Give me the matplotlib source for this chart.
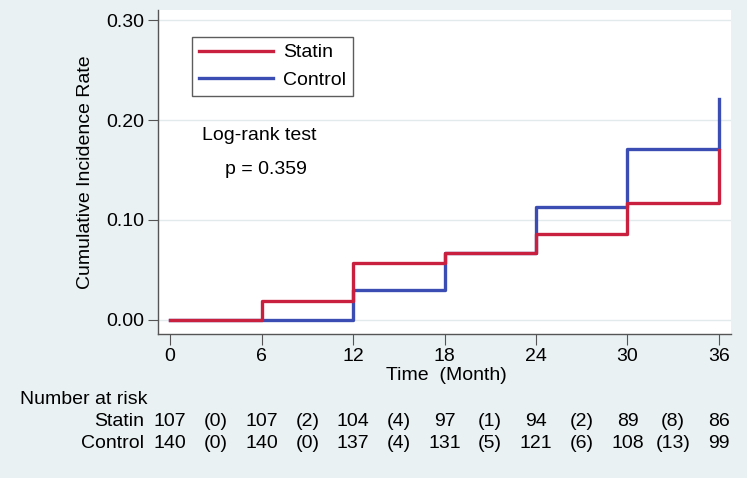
import matplotlib.pyplot as plt
from matplotlib.lines import Line2D
from matplotlib.transforms import blended_transform_factory

# ---- data ----
months = [0, 6, 12, 18, 24, 30, 36]
statin_rate = [0.000, 0.019, 0.057, 0.067, 0.086, 0.117, 0.170]
control_rate = [0.000, 0.000, 0.030, 0.067, 0.113, 0.171, 0.221]

risk_statin = [107, 107, 104, 97, 94, 89, 86]
cens_statin = [0, 2, 4, 1, 2, 8]
risk_control = [140, 140, 137, 131, 121, 108, 99]
cens_control = [0, 0, 4, 5, 6, 13]

yticks = [0.0, 0.1, 0.2, 0.3]

RED = "#c8203e"
BLUE = "#3b4db3"
BG = "#e9f1f3"
FS = 14

plt.rcParams["font.family"] = ["Liberation Sans", "DejaVu Sans"]

W, H = 747, 478
fig = plt.figure(figsize=(W / 100, H / 100), dpi=100, facecolor=BG)
ax = fig.add_axes([158 / W, 1 - 334 / H, (731 - 158) / W, (334 - 10) / H])
ax.set_facecolor("white")

ax.set_xlim(-0.79, 36.79)
ax.set_ylim(-0.0141, 0.3101)

for y in yticks:
    ax.axhline(y, color="#e3eaec", lw=1.0, zorder=0)

ax.step(months, control_rate, where="post", color=BLUE, lw=2.4, zorder=3)
ax.step(months, statin_rate, where="post", color=RED, lw=2.4, zorder=4)

ax.set_xticks(months)
ax.set_yticks(yticks)
ax.set_yticklabels([f"{v:.2f}" for v in yticks])
ax.tick_params(axis="y", labelsize=FS, direction="out", length=7, color="#555555", pad=3)
ax.tick_params(axis="x", labelsize=FS, direction="out", length=8, color="#555555", pad=2)
for s in ["top", "right"]:
    ax.spines[s].set_visible(False)
for s in ["left", "bottom"]:
    ax.spines[s].set_color("#555555")
    ax.spines[s].set_linewidth(1.0)

# legend
handles = [Line2D([], [], color=RED, lw=2.4), Line2D([], [], color=BLUE, lw=2.4)]
leg = fig.legend(handles, ["Statin", "Control"], loc="upper left",
                 bbox_to_anchor=(192 / W, 1 - 37 / H), fontsize=FS,
                 frameon=True, fancybox=False, handlelength=3.8,
                 borderpad=0.35, labelspacing=0.5, handletextpad=0.55,
                 borderaxespad=0)
leg.get_frame().set_edgecolor("#333333")
leg.get_frame().set_linewidth(1.0)

fig.text(202 / W, 1 - 135 / H, "Log-rank test", fontsize=FS, va="center", ha="left")
fig.text(225 / W, 1 - 170 / H, "p = 0.359", fontsize=FS, va="center", ha="left")

fig.text(86 / W, 1 - 172 / H, "Cumulative Incidence Rate", fontsize=FS,
         rotation=90, va="center", ha="center")
fig.text(446 / W, 1 - 375 / H, "Time  (Month)", fontsize=FS, va="center",
         ha="center")

# number at risk table
tr = blended_transform_factory(ax.transData, fig.transFigure)
fig.text(20 / W, 1 - 399 / H, "Number at risk", fontsize=FS, va="center", ha="left")
rows = [("Statin", risk_statin, cens_statin, 421), ("Control", risk_control, cens_control, 443)]
for name, risk, cens, ypix in rows:
    yy = 1 - ypix / H
    fig.text(144 / W, yy, name, fontsize=FS, va="center", ha="right")
    for m, n in zip(months, risk):
        fig.text(m, yy, str(n), transform=tr, fontsize=FS, va="center", ha="center")
    for i, c in enumerate(cens):
        mid = (months[i] + months[i + 1]) / 2
        fig.text(mid, yy, f"({c})", transform=tr, fontsize=FS, va="center", ha="center")

fig.savefig("out.png", dpi=100, facecolor=BG)
